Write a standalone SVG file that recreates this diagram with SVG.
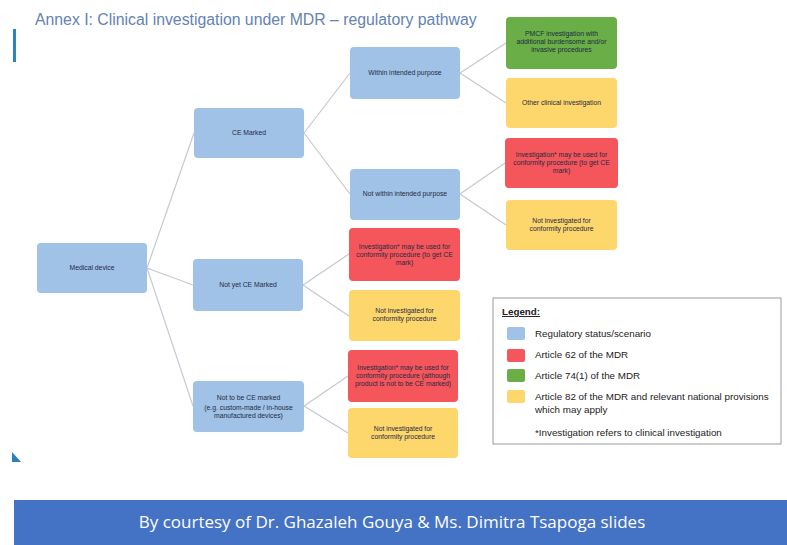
<svg xmlns="http://www.w3.org/2000/svg" width="787" height="545" viewBox="0 0 787 545">
<style>
.n{stroke:none}
.b{fill:#9fc2e6}
.r{fill:#f5565b}
.g{fill:#6aae47}
.y{fill:#fdd66c}
.t{font-family:"Liberation Sans",Arial,sans-serif;font-size:6.8px;fill:#1f2a44;text-anchor:middle}
.lg{font-family:"Liberation Sans",Arial,sans-serif;font-size:9.8px;fill:#222}
.c line{stroke:#c3c9d3;stroke-width:1.2}
</style>
<rect width="787" height="545" fill="#fff"/>
<text x="35" y="25" font-family="Liberation Sans,Arial,sans-serif" font-size="15.8" fill="#6482b4">Annex I: Clinical investigation under MDR – regulatory pathway</text>
<rect x="13" y="29" width="3" height="33" fill="#2c84c0"/>
<polygon points="12,452 12,462 21,462" fill="#2c7fbd"/>

<g class="c" id="connectors">
<line x1="147" y1="268" x2="194" y2="133"/>
<line x1="147" y1="268" x2="193" y2="285"/>
<line x1="147" y1="268" x2="193" y2="406"/>
<line x1="304" y1="133" x2="350" y2="73"/>
<line x1="304" y1="133" x2="350" y2="194"/>
<line x1="460" y1="73" x2="506" y2="43"/>
<line x1="460" y1="73" x2="506" y2="103"/>
<line x1="460" y1="194" x2="505" y2="163"/>
<line x1="460" y1="194" x2="506" y2="225"/>
<line x1="303" y1="285" x2="349" y2="254"/>
<line x1="303" y1="285" x2="349" y2="316"/>
<line x1="304" y1="406" x2="348" y2="376"/>
<line x1="304" y1="406" x2="348" y2="433"/>
</g>

<g id="medical-device"><rect class="n b" x="37" y="243" width="110" height="50" rx="4"/><text class="t" x="92" y="270">Medical device</text></g>
<g id="ce-marked"><rect class="n b" x="194" y="108" width="110" height="50" rx="4"/><text class="t" x="249" y="135">CE Marked</text></g>
<g id="not-yet-ce"><rect class="n b" x="193" y="259" width="110" height="52" rx="4"/><text class="t" x="248" y="287">Not yet CE Marked</text></g>
<g id="not-to-be-ce"><rect class="n b" x="193" y="381" width="111" height="51" rx="4"/><text class="t" x="248.5" y="400">Not to be CE marked</text><text class="t" x="248.5" y="410">(e.g. custom-made / in-house</text><text class="t" x="248.5" y="418">manufactured devices)</text></g>
<g id="within"><rect class="n b" x="350" y="47" width="110" height="52" rx="4"/><text class="t" x="405" y="75">Within intended purpose</text></g>
<g id="not-within"><rect class="n b" x="350" y="169" width="110" height="51" rx="4"/><text class="t" x="405" y="196">Not within intended purpose</text></g>
<g id="pmcf"><rect class="n g" x="506" y="17" width="111" height="52" rx="4"/><text class="t" x="561.5" y="36">PMCF investigation with</text><text class="t" x="561.5" y="44">additional burdensome and/or</text><text class="t" x="561.5" y="52">invasive procedures</text></g>
<g id="other-ci"><rect class="n y" x="506" y="78" width="111" height="50" rx="4"/><text class="t" x="561.5" y="105">Other clinical investigation</text></g>
<g id="red-nw"><rect class="n r" x="505" y="138" width="113" height="50" rx="4"/><text class="t" x="561.5" y="157">Investigation* may be used for</text><text class="t" x="561.5" y="165">conformity procedure (to get CE</text><text class="t" x="561.5" y="173">mark)</text></g>
<g id="yellow-nw"><rect class="n y" x="506" y="200" width="111" height="50" rx="4"/><text class="t" x="561.5" y="223">Not investigated for</text><text class="t" x="561.5" y="231">conformity procedure</text></g>
<g id="red-ny"><rect class="n r" x="349" y="228" width="111" height="53" rx="4"/><text class="t" x="404.5" y="249">Investigation* may be used for</text><text class="t" x="404.5" y="257">conformity procedure (to get CE</text><text class="t" x="404.5" y="265">mark)</text></g>
<g id="yellow-ny"><rect class="n y" x="349" y="290" width="111" height="51" rx="4"/><text class="t" x="404.5" y="313">Not investigated for</text><text class="t" x="404.5" y="321">conformity procedure</text></g>
<g id="red-nt"><rect class="n r" x="348" y="350" width="110" height="52" rx="4"/><text class="t" x="403" y="370">Investigation* may be used for</text><text class="t" x="403" y="378">conformity procedure (although</text><text class="t" x="403" y="386">product is not to be CE marked)</text></g>
<g id="yellow-nt"><rect class="n y" x="348" y="408" width="110" height="50" rx="4"/><text class="t" x="403" y="431">Not investigated for</text><text class="t" x="403" y="439">conformity procedure</text></g>

<g id="legend">
<rect x="493" y="298" width="288" height="146" fill="#fff" stroke="#9a9a9a" stroke-width="1"/>
<text class="lg" x="502" y="315" font-weight="bold" text-decoration="underline">Legend:</text>
<rect class="b" x="507" y="327" width="18" height="13" rx="2"/>
<text class="lg" x="535" y="337">Regulatory status/scenario</text>
<rect class="r" x="507" y="349" width="18" height="13" rx="2"/>
<text class="lg" x="535" y="358">Article 62 of the MDR</text>
<rect class="g" x="507" y="369" width="18" height="13" rx="2"/>
<text class="lg" x="535" y="379">Article 74(1) of the MDR</text>
<rect class="y" x="507" y="390" width="18" height="13" rx="2"/>
<text class="lg" x="535" y="400">Article 82 of the MDR and relevant national provisions</text>
<text class="lg" x="535" y="413">which may apply</text>
<text class="lg" x="535" y="436">*Investigation refers to clinical investigation</text>
</g>

<rect x="14" y="500" width="773" height="45" fill="#4472c4"/>
<text x="392" y="528" text-anchor="middle" font-family="Open Sans,Liberation Sans,sans-serif" font-size="17" fill="#fff">By courtesy of Dr. Ghazaleh Gouya &amp; Ms. Dimitra Tsapoga slides</text>
</svg>
